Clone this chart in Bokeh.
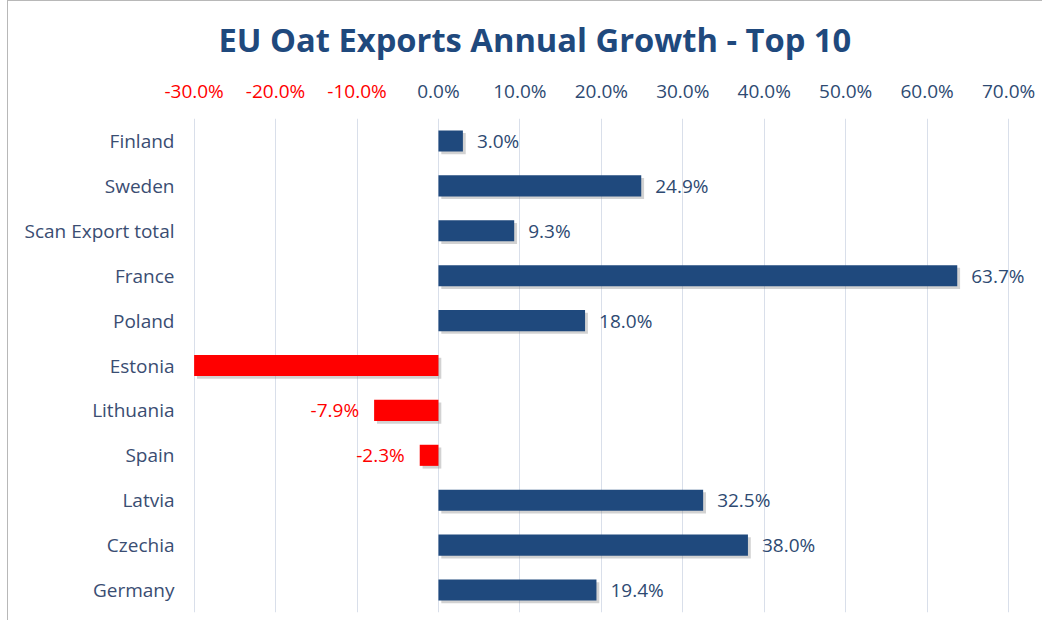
from bokeh.plotting import figure
from bokeh.models import (ColumnDataSource, FactorRange, Range1d, FixedTicker, LinearAxis,
                          CustomJSTickFormatter)
from bokeh.transform import dodge
from bokeh.embed import file_html
from bokeh.resources import INLINE
from bokeh.core.properties import value

# ---- data ----
countries = ["Finland", "Sweden", "Scan Export total", "France", "Poland", "Estonia",
             "Lithuania", "Spain", "Latvia", "Czechia", "Germany"]
growth = [3.0, 24.9, 9.3, 63.7, 18.0, -30.0, -7.9, -2.3, 32.5, 38.0, 19.4]
show_label = [True, True, True, True, True, False, True, True, True, True, True]
neg_ticks = [-30, -20, -10]
pos_ticks = [0, 10, 20, 30, 40, 50, 60, 70]
title_text = "EU Oat Exports Annual Growth - Top 10"

BLUE = "#1F497D"
RED = "#FF0000"
TXT = "#2E4A72"
FONT = "Open Sans"

p = figure(frame_width=847, frame_height=494, output_backend="svg", toolbar_location=None,
           y_range=FactorRange(factors=list(reversed(countries)), range_padding=0),
           x_range=Range1d(-30.2, 73.8), x_axis_location=None,
           min_border_left=184, min_border_right=3, min_border_top=100, min_border_bottom=8)
p.outline_line_color = None
p.border_fill_color = "white"
p.styles = {"margin-left": "7px", "margin-top": "0px",
            "border-left": "1px solid #B8B8B8", "border-top": "1px solid #B8B8B8"}

p.title.text = title_text
p.title.align = "left"
p.title.offset = 26
p.title.standoff = 26
p.title.text_font = FONT
p.title.text_font_size = "32.7px"
p.title.text_font_style = "bold"
p.title.text_color = BLUE

cols = [BLUE if v >= 0 else RED for v in growth]
shadow_l = [0.35 if v >= 0 else v + 0.35 for v in growth]
shadow_r = [v + 0.35 if v >= 0 else 0.35 for v in growth]
src = ColumnDataSource(dict(country=countries, growth=growth, color=cols,
                            sl=shadow_l, sr=shadow_r))
p.hbar(y=dodge("country", -0.06, range=p.y_range), left="sl", right="sr", height=0.47,
       fill_color="#7F7F7F", fill_alpha=0.35, line_color=None, source=src)
p.hbar(y="country", left=0, right="growth", height=0.47, fill_color="color",
       line_color=None, source=src)

pos = {k: [] for k in ("country", "growth", "label")}
neg = {k: [] for k in ("country", "growth", "label")}
for c, v, s in zip(countries, growth, show_label):
    if not s:
        continue
    d = pos if v >= 0 else neg
    d["country"].append(c)
    d["growth"].append(v)
    d["label"].append(f"{v:.1f}%")

p.text(x="growth", y="country", text="label", source=ColumnDataSource(pos),
       x_offset=14, text_align="left", text_baseline="middle",
       text_font=value(FONT), text_font_size="19px", text_color=TXT)
p.text(x="growth", y="country", text="label", source=ColumnDataSource(neg),
       x_offset=-15, text_align="right", text_baseline="middle",
       text_font=value(FONT), text_font_size="19px", text_color=RED)

# top axes: negative ticks (red) and positive ticks (blue), drawn on the same line
fmt = CustomJSTickFormatter(code="return tick.toFixed(1) + '%';")
for ticks, color, standoff in ((neg_ticks, RED, 15), (pos_ticks, TXT, -29)):
    ax = LinearAxis(ticker=FixedTicker(ticks=ticks), formatter=fmt)
    ax.axis_line_color = None
    ax.major_tick_line_color = None
    ax.minor_tick_line_color = None
    ax.major_tick_in = 0
    ax.major_tick_out = 0
    ax.major_label_text_font = FONT
    ax.major_label_text_font_size = "19px"
    ax.major_label_text_color = color
    ax.major_label_standoff = standoff
    p.add_layout(ax, "above")

ya = p.yaxis[0]
ya.axis_line_color = None
ya.major_tick_line_color = None
ya.minor_tick_line_color = None
ya.major_label_text_font = FONT
ya.major_label_text_font_size = "19px"
ya.major_label_text_color = "#3A4D72"
ya.major_label_standoff = 12

p.xgrid.grid_line_color = "#D9DFEA"
p.xgrid.ticker = FixedTicker(ticks=neg_ticks + pos_ticks)
p.ygrid.grid_line_color = None

open("out.html", "w").write(file_html(p, INLINE))
